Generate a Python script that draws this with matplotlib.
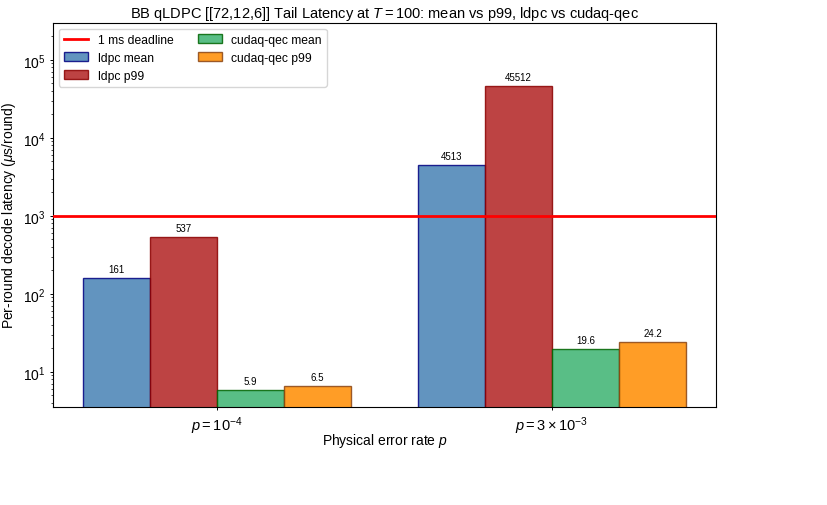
import matplotlib
matplotlib.use("Agg")
import matplotlib.pyplot as plt
import numpy as np

plt.rcParams['font.family'] = ['Liberation Sans', 'DejaVu Sans']
plt.rcParams['mathtext.fontset'] = 'custom'
plt.rcParams['mathtext.rm'] = 'Liberation Sans'
plt.rcParams['mathtext.it'] = 'Liberation Sans:italic'

groups = [r"$p = 10^{-4}$", r"$p = 3\times10^{-3}$"]
series = ["ldpc mean", "ldpc p99", "cudaq-qec mean", "cudaq-qec p99"]
ldpc_mean = [161, 4513]
ldpc_p99 = [537, 45512]
cudaq_mean = [5.9, 19.6]
cudaq_p99 = [6.5, 24.2]
labels_txt = [["161", "4513"], ["537", "45512"], ["5.9", "19.6"], ["6.5", "24.2"]]
deadline = 1000

values = [ldpc_mean, ldpc_p99, cudaq_mean, cudaq_p99]
fills = ["steelblue", "firebrick", "mediumseagreen", "darkorange"]
edges = ["navy", "darkred", "darkgreen", "saddlebrown"]

fig = plt.figure(figsize=(8.27, 5.06), dpi=100)
ax = fig.add_axes([0.064, 0.1937, 0.802, 0.759])

ax.axhline(deadline, color="red", lw=2, label="1 ms deadline", zorder=5)

x = np.arange(len(groups))
w = 0.2
offsets = [-0.3, -0.1, 0.1, 0.3]
for vals, name, fc, ec, off, txts in zip(values, series, fills, edges, offsets, labels_txt):
    bars = ax.bar(x + off, vals, w, color=fc, edgecolor=ec, alpha=0.85, label=name, linewidth=1)
    for b, t in zip(bars, txts):
        ax.annotate(t, (b.get_x() + b.get_width() / 2, b.get_height()),
                    xytext=(0, 3), textcoords="offset points",
                    ha="center", va="bottom", fontsize=7)

ax.set_yscale("log")
ax.set_ylim(3.55, 2.97e5)
ax.set_xlim(-0.49, 1.49)
ax.set_xticks(x)
ax.set_xticklabels(groups, fontsize=10.5)
ax.tick_params(axis='y', labelsize=10)
ax.tick_params(which='major', length=2.5, width=0.7, pad=3)
ax.tick_params(which='minor', length=1.5, width=0.5)
ax.set_xlabel("Physical error rate $p$", fontsize=10)
ax.xaxis.set_label_coords(0.5, -0.063)
ax.set_ylabel(r"Per-round decode latency ($\mu$s/round)", fontsize=10)
ax.yaxis.set_label_coords(-0.053, 0.5)
ax.set_title(r"BB qLDPC [[72,12,6]] Tail Latency at $T = 100$: mean vs p99, ldpc vs cudaq-qec",
             fontsize=10.5, pad=4)

ax.legend(ncol=2, loc="upper left", fontsize=8.7)

fig.savefig("out.png", dpi=100)
